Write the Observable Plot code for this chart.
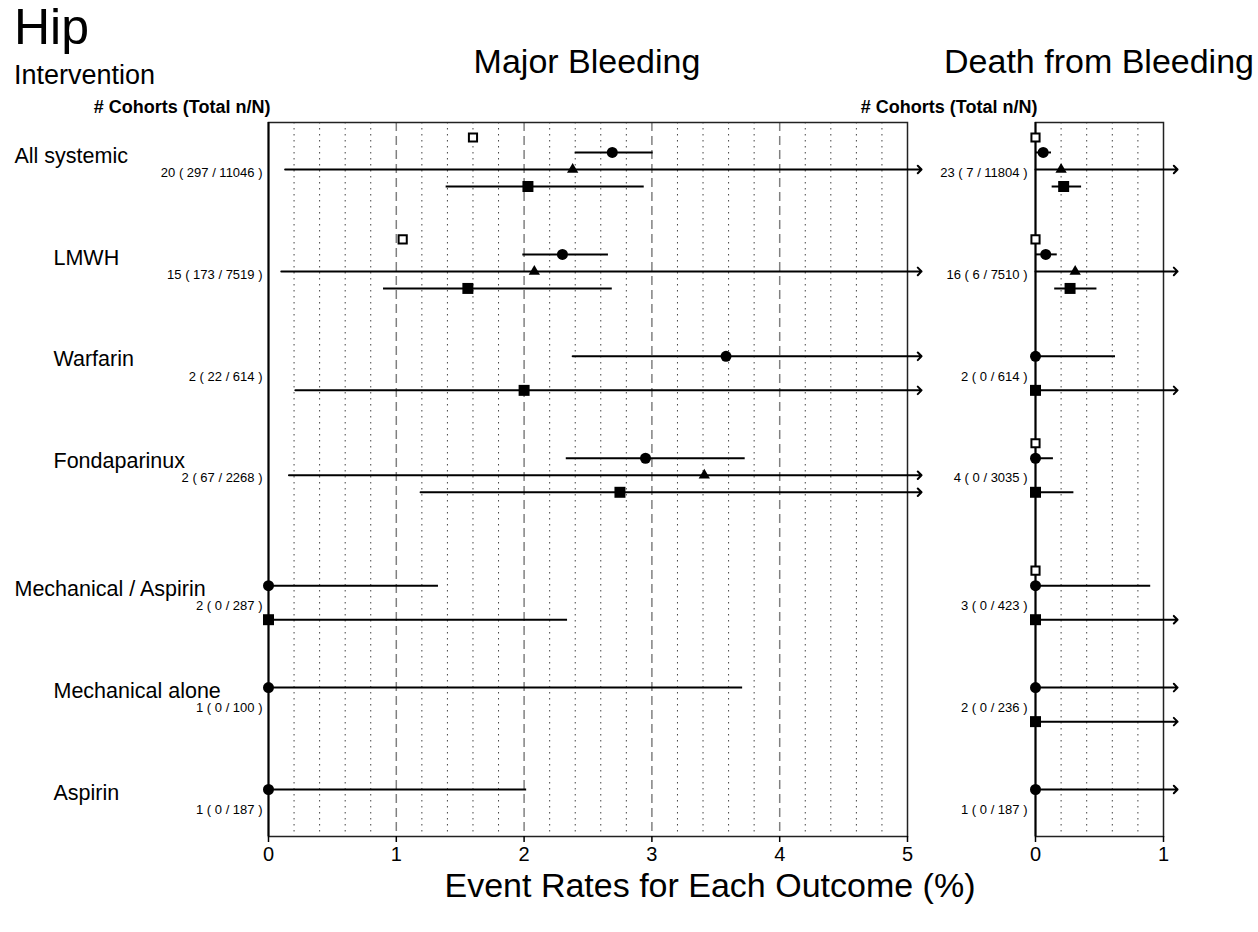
<!DOCTYPE html>
<html><head><meta charset="utf-8">
<script src="https://cdn.jsdelivr.net/npm/d3@7"></script>
<script src="https://cdn.jsdelivr.net/npm/@observablehq/plot@0.6"></script>
<style>
body{margin:0;background:#fff;font-family:"Liberation Sans",Arial,Helvetica,sans-serif;}
#root{position:relative;width:1258px;height:932px;overflow:hidden;background:#fff;}
.t{position:absolute;white-space:nowrap;line-height:1;color:#000;}
.c{transform:translateX(-50%);}
</style></head><body><div id="root"></div>
<script>
// ---------- data ----------
const groups = ["All systemic","LMWH","Warfarin","Fondaparinux","Mechanical / Aspirin","Mechanical alone","Aspirin"];
const groupPos = [1, 2, 3, 4, 5.25, 6.25, 7.25];
const groupIndent = [0, 1, 1, 1, 0, 1, 1];
const countsMajor = ["20 ( 297 / 11046 )","15 ( 173 / 7519 )","2 ( 22 / 614 )","2 ( 67 / 2268 )","2 ( 0 / 287 )","1 ( 0 / 100 )","1 ( 0 / 187 )"];
const countsDeath = ["23 ( 7 / 11804 )","16 ( 6 / 7510 )","2 ( 0 / 614 )","4 ( 0 / 3035 )","3 ( 0 / 423 )","2 ( 0 / 236 )","1 ( 0 / 187 )"];
const seriesNames = ["openSquare","circle","triangle","square"];
const seriesOffset = [-0.314, -0.167, 0, 0.167];
const ticksMajor = [0, 1, 2, 3, 4, 5];
const ticksDeath = [0, 1];

// [group, series, estimate, lower, upper]; lower null = no interval, upper null = interval runs off the axis
const majorRows = [
  ["All systemic","openSquare",1.60,null,null],
  ["All systemic","circle",2.69,2.40,3.01],
  ["All systemic","triangle",2.38,0.13,null],
  ["All systemic","square",2.03,1.39,2.94],
  ["LMWH","openSquare",1.05,null,null],
  ["LMWH","circle",2.30,1.99,2.66],
  ["LMWH","triangle",2.08,0.10,null],
  ["LMWH","square",1.56,0.90,2.69],
  ["Warfarin","circle",3.58,2.38,null],
  ["Warfarin","square",2.00,0.21,null],
  ["Fondaparinux","circle",2.95,2.33,3.73],
  ["Fondaparinux","triangle",3.41,0.16,null],
  ["Fondaparinux","square",2.75,1.19,null],
  ["Mechanical / Aspirin","circle",0,0,1.33],
  ["Mechanical / Aspirin","square",0,0,2.34],
  ["Mechanical alone","circle",0,0,3.71],
  ["Aspirin","circle",0,0,2.02]
];
const deathRows = [
  ["All systemic","openSquare",0,null,null],
  ["All systemic","circle",0.06,0,0.125],
  ["All systemic","triangle",0.20,0,null],
  ["All systemic","square",0.22,0.13,0.36],
  ["LMWH","openSquare",0,null,null],
  ["LMWH","circle",0.08,0,0.17],
  ["LMWH","triangle",0.31,0,null],
  ["LMWH","square",0.27,0.15,0.48],
  ["Warfarin","circle",0,0,0.625],
  ["Warfarin","square",0,0,null],
  ["Fondaparinux","openSquare",0,null,null],
  ["Fondaparinux","circle",0,0,0.14],
  ["Fondaparinux","square",0,0,0.30],
  ["Mechanical / Aspirin","openSquare",0,null,null],
  ["Mechanical / Aspirin","circle",0,0,0.90],
  ["Mechanical / Aspirin","square",0,0,null],
  ["Mechanical alone","circle",0,0,null],
  ["Mechanical alone","square",0,0,null],
  ["Aspirin","circle",0,0,null]
];

// ---------- drawing ----------
const FONT = "Liberation Sans, Arial, Helvetica, sans-serif";
const root = document.getElementById("root");

function panel(rows, counts, ticks, opts) {
  const xMax = ticks[ticks.length - 1];
  const table = rows.map(([g, s, est, lo, hi]) => ({
    g, s, est, lo, hi,
    y: groupPos[groups.indexOf(g)] + seriesOffset[seriesNames.indexOf(s)]
  }));
  const closed = table.filter(d => d.lo != null && d.hi != null);
  const open = table.filter(d => d.lo != null && d.hi == null);
  const fine = d3.range(1, xMax * 5).map(i => i / 5).filter(v => Math.abs(v - Math.round(v)) > 1e-9);
  const coarse = ticks.filter(t => t > 0 && t < xMax);
  const labelTable = groups.map((g, i) => ({g, y: groupPos[i], indent: groupIndent[i], count: counts[i]}));
  const sym = (name, o) => Plot.dot(table.filter(d => d.s === name), {x: "est", y: "y", ...o});

  const marks = [
    Plot.ruleX(fine, {stroke: "#444", strokeDasharray: "1.5,4.5", strokeWidth: 1}),
    Plot.ruleX(coarse, {stroke: "#808080", strokeDasharray: "9,5", strokeWidth: 1.5}),
    Plot.frame({stroke: "#222", strokeWidth: 1.5}),
    Plot.ruleX([0], {stroke: "black", strokeWidth: 2}),
    Plot.ruleY(closed, {y: "y", x1: "lo", x2: "hi", stroke: "black", strokeWidth: 2}),
    Plot.arrow(open, {x1: "lo", x2: () => xMax + 0.11, y1: "y", y2: "y", stroke: "black", strokeWidth: 2, headLength: 4, headAngle: 90}),
    sym("openSquare", {symbol: "square", r: 4.6, fill: "white", stroke: "black", strokeWidth: 2}),
    sym("circle", {symbol: "circle", r: 5.5, fill: "black"}),
    sym("triangle", {symbol: "triangle", r: 4.2, fill: "black"}),
    sym("square", {symbol: "square", r: 6.2, fill: "black"}),
    Plot.axisX({ticks, tickSize: 6, tickPadding: 4, fontSize: 20, label: null, tickFormat: d3.format("d"), stroke: "black", strokeWidth: 1.5}),
    Plot.text(labelTable, {x: () => 0, y: d => d.y + 0.03, text: "count", textAnchor: "end", lineAnchor: "middle", dx: opts.countDx, fontSize: 13, fill: "black"}),
    Plot.text(["# Cohorts (Total n/N)"], {frameAnchor: "top-left", text: d => d, textAnchor: "end", lineAnchor: "middle", dx: 2, dy: -15, fontSize: 18, fontWeight: "bold", fill: "black"})
  ];
  if (opts.groupLabels) {
    for (const level of [0, 1]) {
      marks.push(Plot.text(labelTable.filter(d => d.indent === level), {x: () => 0, y: d => d.y - 0.135, text: "g",
        textAnchor: "start", lineAnchor: "middle", dx: -254 + 39 * level, fontSize: 21.5, fill: "black"}));
    }
  }
  const chart = Plot.plot({
    width: opts.width, height: 870,
    marginLeft: opts.marginLeft, marginRight: opts.marginRight, marginTop: 122, marginBottom: 34,
    x: {domain: [0, xMax], axis: null},
    y: {domain: [0.539, 7.544], reverse: true, axis: null},
    style: {fontFamily: FONT, background: "transparent", overflow: "visible", color: "black"},
    marks
  });
  chart.style.position = "absolute";
  chart.style.left = opts.left + "px";
  chart.style.top = "0px";
  chart.style.maxWidth = "none";
  root.appendChild(chart);
}

panel(majorRows, countsMajor, ticksMajor, {left: 0, width: 925, marginLeft: 268, marginRight: 18, countDx: -6, groupLabels: true});
panel(deathRows, countsDeath, ticksDeath, {left: 925, width: 333, marginLeft: 110, marginRight: 95, countDx: -8, groupLabels: false});

// text placed so that its baseline sits at the given y (line-height 1)
function label(text, size, left, baseline, centered) {
  const el = document.createElement("div");
  el.className = "t" + (centered ? " c" : "");
  el.textContent = text;
  el.style.fontSize = size + "px";
  el.style.left = left + "px";
  el.style.top = Math.max(1, baseline - 0.8465 * size) + "px";
  root.appendChild(el);
}
label("Hip", 50, 14, 44, false);
label("Intervention", 27, 14, 85, false);
label("Major Bleeding", 34, 587, 73, true);
label("Death from Bleeding", 34, 1099, 73, true);
label("Event Rates for Each Outcome (%)", 34, 710, 897, true);
</script></body></html>
